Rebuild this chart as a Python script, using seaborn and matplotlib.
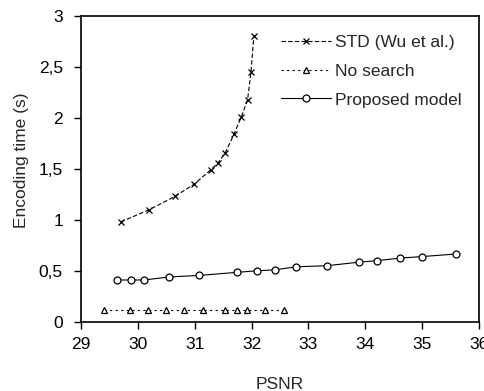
import matplotlib
matplotlib.use("Agg")
import matplotlib.pyplot as plt
import seaborn as sns
import pandas as pd
from matplotlib.ticker import FuncFormatter

std_psnr = [29.70, 30.20, 30.65, 30.99, 31.28, 31.41, 31.54, 31.69, 31.82, 31.93, 31.99, 32.04]
std_time = [0.98, 1.10, 1.23, 1.35, 1.49, 1.56, 1.66, 1.84, 2.01, 2.18, 2.45, 2.80]

ns_psnr = [29.41, 29.87, 30.17, 30.49, 30.82, 31.15, 31.53, 31.75, 31.92, 32.23, 32.57]
ns_time = [0.12, 0.12, 0.12, 0.12, 0.12, 0.12, 0.12, 0.12, 0.12, 0.12, 0.12]

pm_psnr = [29.64, 29.88, 30.11, 30.55, 31.08, 31.74, 32.09, 32.41, 32.79, 33.32, 33.89, 34.21, 34.61, 35.00, 35.59]
pm_time = [0.41, 0.41, 0.41, 0.44, 0.455, 0.485, 0.50, 0.51, 0.54, 0.55, 0.585, 0.60, 0.625, 0.64, 0.665]

series_names = ["STD (Wu et al.)", "No search", "Proposed model"]
x_ticks = [29, 30, 31, 32, 33, 34, 35, 36]
y_ticks = [0, 0.5, 1, 1.5, 2, 2.5, 3]

sns.set_style("white")
plt.rcParams['font.family'] = ['Liberation Sans', 'DejaVu Sans']

df = pd.concat([
    pd.DataFrame({"PSNR": std_psnr, "time": std_time, "series": series_names[0]}),
    pd.DataFrame({"PSNR": ns_psnr, "time": ns_time, "series": series_names[1]}),
    pd.DataFrame({"PSNR": pm_psnr, "time": pm_time, "series": series_names[2]}),
], ignore_index=True)

fig = plt.figure(figsize=(4.85, 3.91), dpi=100)
ax = fig.add_axes([0.167, 0.177, 0.8206, 0.782])

styles = {
    series_names[0]: dict(marker="x", ls=(0, (4, 2)), ms=4.5, mfc="black"),
    series_names[1]: dict(marker="^", ls=(0, (2, 3)), ms=5, mfc="white"),
    series_names[2]: dict(marker="o", ls="-", ms=5, mfc="white"),
}
for name in series_names:
    sub = df[df["series"] == name]
    st = styles[name]
    sns.lineplot(data=sub, x="PSNR", y="time", ax=ax, sort=False, color="black",
                 lw=0.8, marker=st["marker"], markersize=st["ms"], markeredgewidth=0.9,
                 markerfacecolor=st["mfc"], markeredgecolor="black",
                 linestyle=st["ls"], label=name)

ax.set_xlim(29, 36)
ax.set_ylim(0, 3)
ax.set_xticks(x_ticks)
ax.set_yticks(y_ticks)
ax.yaxis.set_major_formatter(FuncFormatter(lambda v, p: ("%g" % v).replace(".", ",")))
ax.tick_params(direction="out", length=5, width=1, colors="black", labelsize=12.5,
               bottom=True, left=True)
ax.tick_params(axis="x", pad=6)
ax.tick_params(axis="y", pad=8)
for s in ax.spines.values():
    s.set_color("black")
    s.set_linewidth(1.2)
ax.set_xlabel("PSNR", fontsize=12.5)
ax.set_ylabel("Encoding time (s)", fontsize=12.5)
ax.xaxis.set_label_coords(0.5, -0.181)
ax.yaxis.set_label_coords(-0.13, 0.529)

leg = ax.legend(loc="upper left", frameon=False, fontsize=12.5, handlelength=2.9,
                handletextpad=0.2, labelspacing=0.78, borderpad=0, borderaxespad=0,
                bbox_to_anchor=(0.5025, 0.938))

fig.savefig("out.png", dpi=100)
